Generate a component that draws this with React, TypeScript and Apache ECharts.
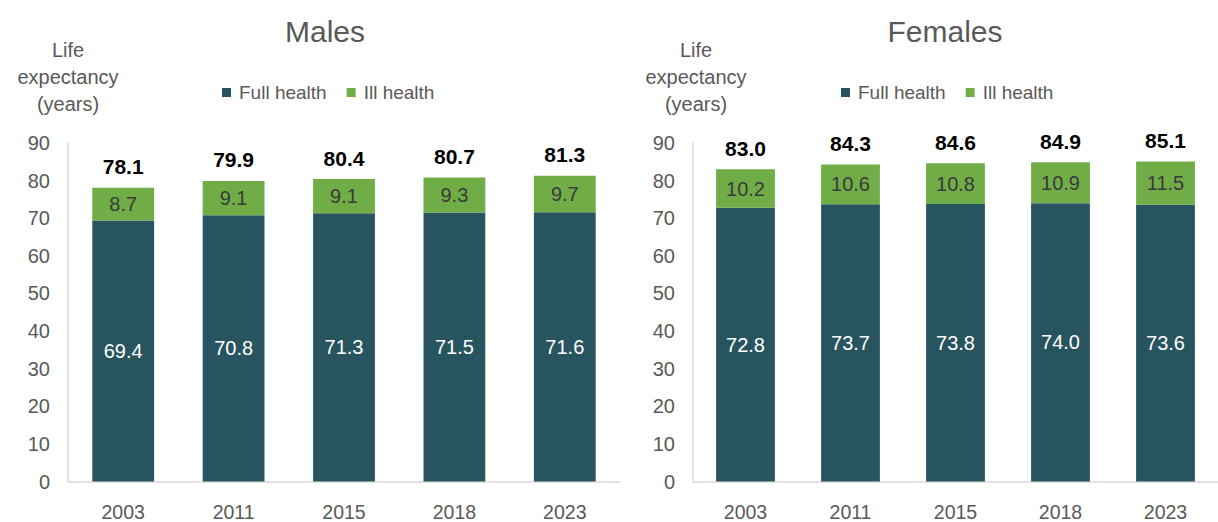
import React, { useEffect, useRef } from "react";
import * as echarts from "echarts";

const years = ["2003", "2011", "2015", "2018", "2023"];
const maleFull = [69.4, 70.8, 71.3, 71.5, 71.6];
const maleIll = [8.7, 9.1, 9.1, 9.3, 9.7];
const maleTotal = [78.1, 79.9, 80.4, 80.7, 81.3];
const femaleFull = [72.8, 73.7, 73.8, 74.0, 73.6];
const femaleIll = [10.2, 10.6, 10.8, 10.9, 11.5];
const femaleTotal = [83.0, 84.3, 84.6, 84.9, 85.1];
const yTicks = { min: 0, max: 90, interval: 10 };

const FONT = "'Liberation Sans', Arial, sans-serif";
const DARK = "#27545F";
const GREEN = "#70AD47";
const GRAY = "#595959";
const AXIS = "#D9D9D9";

export default function App() {
  const ref = useRef<HTMLDivElement>(null);
  useEffect(() => {
    if (!ref.current) return;
    const chart = echarts.init(ref.current, undefined, { renderer: "svg" });
    const grids = [
      { left: 68, right: 598, top: 143, bottom: 40.5 },
      { left: 693, right: -13, top: 143, bottom: 40.5 },
    ];
    const xAxes = grids.map((_, i) => ({
      type: "category",
      gridIndex: i,
      data: years,
      axisLine: { lineStyle: { color: AXIS, width: 1.5 } },
      axisTick: { show: false },
      axisLabel: { color: GRAY, fontSize: 19.5, fontFamily: FONT, margin: 20 },
    }));
    const yAxes = grids.map((_, i) => ({
      type: "value",
      gridIndex: i,
      min: yTicks.min,
      max: yTicks.max,
      interval: yTicks.interval,
      name: "Life\nexpectancy\n(years)",
      nameLocation: "end",
      nameGap: 26,
      nameTextStyle: {
        color: GRAY,
        fontSize: 20,
        fontFamily: FONT,
        lineHeight: 27,
        align: "center",
        verticalAlign: "bottom",
        padding: [0, 0, 0, i === 0 ? 0 : 6],
      },
      axisLine: { show: true, lineStyle: { color: AXIS, width: 1.5 } },
      axisTick: { show: false },
      splitLine: { show: false },
      axisLabel: { color: GRAY, fontSize: 20, fontFamily: FONT, margin: 18 },
    }));
    const mk = (i: number, full: number[], ill: number[], total: number[]) => [
      {
        name: "Full health",
        type: "bar",
        xAxisIndex: i,
        yAxisIndex: i,
        stack: "s" + i,
        data: full,
        barCategoryGap: "44%",
        itemStyle: { color: DARK },
        label: {
          show: true,
          position: "inside",
          color: "#FFFFFF",
          fontSize: 20,
          fontFamily: FONT,
          formatter: (p: any) => p.value.toFixed(1),
        },
      },
      {
        name: "Ill health",
        type: "bar",
        xAxisIndex: i,
        yAxisIndex: i,
        stack: "s" + i,
        data: ill,
        barCategoryGap: "44%",
        itemStyle: { color: GREEN },
        label: {
          show: true,
          position: "inside",
          color: "#3A3A3A",
          fontSize: 20,
          fontFamily: FONT,
          formatter: (p: any) => p.value.toFixed(1),
        },
      },
      {
        name: "Total",
        type: "line",
        xAxisIndex: i,
        yAxisIndex: i,
        data: total,
        symbol: "circle",
        symbolSize: 1,
        itemStyle: { color: "transparent" },
        lineStyle: { width: 0, opacity: 0 },
        label: {
          show: true,
          position: "top",
          distance: 10,
          color: "#000000",
          fontSize: 21,
          fontWeight: "bold",
          fontFamily: FONT,
          formatter: (p: any) => p.value.toFixed(1),
        },
        z: 5,
      },
    ];
    const legend = (left: number) => ({
      left,
      top: 78,
      data: ["Full health", "Ill health"],
      itemWidth: 9,
      itemHeight: 9,
      itemGap: 20,
      icon: "rect",
      selectedMode: false,
      textStyle: { color: GRAY, fontSize: 19, fontFamily: FONT, padding: [0, 0, 0, 3] },
    });
    chart.setOption({
      animation: false,
      title: [
        {
          text: "Males",
          left: 320,
          top: 11,
          textAlign: "center",
          textStyle: { color: GRAY, fontSize: 30, fontWeight: "normal", fontFamily: FONT },
        },
        {
          text: "Females",
          left: 940,
          top: 11,
          textAlign: "center",
          textStyle: { color: GRAY, fontSize: 30, fontWeight: "normal", fontFamily: FONT },
        },
      ],
      legend: [legend(217), legend(836)],
      grid: grids,
      xAxis: xAxes,
      yAxis: yAxes,
      series: [
        ...mk(0, maleFull, maleIll, maleTotal),
        ...mk(1, femaleFull, femaleIll, femaleTotal),
      ],
    });
    return () => chart.dispose();
  }, []);
  return <div ref={ref} style={{ width: 1218, height: 522, position: "absolute", left: 0, top: 0 }} />;
}
